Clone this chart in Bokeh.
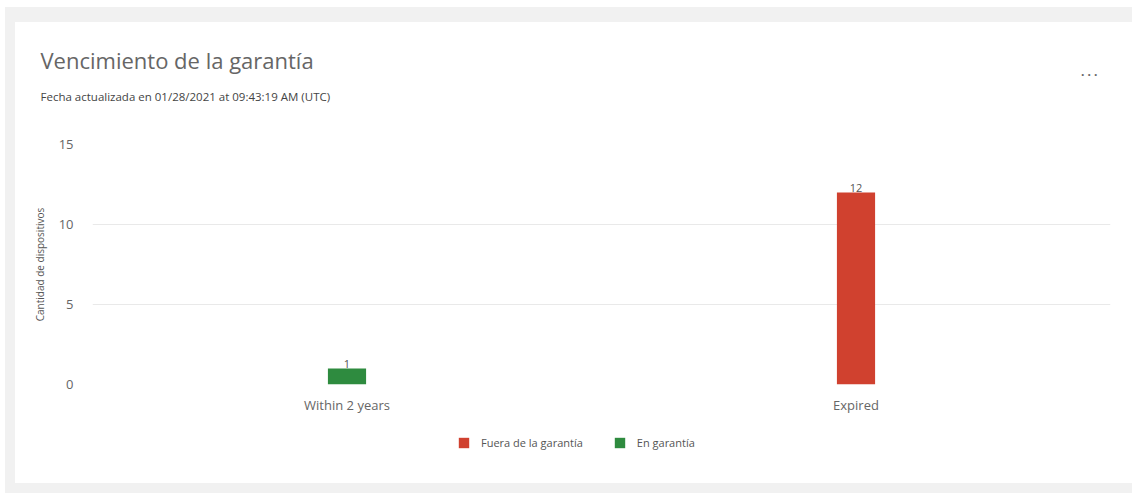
from bokeh.plotting import figure
from bokeh.models import (ColumnDataSource, FactorRange, Range1d, FixedTicker,
                          Legend, LegendItem, LabelSet, Title)
from bokeh.core.properties import value
from bokeh.layouts import column
from bokeh.embed import file_html
from bokeh.resources import INLINE

# ---- data ----
categories = ["Within 2 years", "Expired"]
series_names = ["Fuera de la garantía", "En garantía"]
fuera_values = [0, 12]
en_values = [1, 0]
series_colors = ["#d0412f", "#2e8b3f"]
y_ticks = [0, 5, 10, 15]
title_text = "Vencimiento de la garantía"
subtitle_text = "Fecha actualizada en 01/28/2021 at 09:43:19 AM (UTC)"
y_label = "Cantidad de dispositivos"

FONT = "Open Sans"
GRAY = "#f1f1f1"
W = 1117

x_range = FactorRange(*categories, range_padding=0)

# ---- main chart ----
p = figure(
    x_range=x_range, y_range=Range1d(0, 15),
    width=W, height=398, title=None,
    output_backend="svg", toolbar_location=None,
    min_border_left=77, min_border_right=22,
    min_border_top=122, min_border_bottom=36,
    background_fill_color="white", border_fill_color="white",
    outline_line_color=None,
)
p.margin = (15, 0, 0, 10)
p.styles = {"background-color": "white"}

# header rows, from the plot area outward: spacer, subtitle, menu dots, title
p.add_layout(Title(text="\u00a0", standoff=22, text_font=FONT, text_font_size="11.5px",
                   text_color="white"), "above")
p.add_layout(Title(text=subtitle_text, align="left", offset=-52, standoff=4,
                   text_font=FONT, text_font_size="11.5px", text_font_style="normal",
                   text_color="#444444"), "above")
p.add_layout(Title(text="· · ·", align="right", offset=13, standoff=3,
                   text_font=FONT, text_font_size="12px", text_font_style="bold",
                   text_color="#666666"), "above")
p.add_layout(Title(text=title_text, align="left", offset=-52, standoff=-24,
                   text_font=FONT, text_font_size="22px", text_font_style="normal",
                   text_color="#666666"), "above")

src_fuera = ColumnDataSource(dict(cat=categories, val=fuera_values))
src_en = ColumnDataSource(dict(cat=categories, val=en_values))

r_fuera = p.vbar(x="cat", top="val", bottom=0, width=0.075, source=src_fuera,
                 fill_color=series_colors[0], line_color=None)
r_en = p.vbar(x="cat", top="val", bottom=0, width=0.075, source=src_en,
              fill_color=series_colors[1], line_color=None)

# value labels for non-zero bars
lab_cat, lab_val = [], []
for c, a, b in zip(categories, fuera_values, en_values):
    for v in (a, b):
        if v > 0:
            lab_cat.append(c)
            lab_val.append(v)
src_lab = ColumnDataSource(dict(cat=lab_cat, val=lab_val, txt=[str(v) for v in lab_val]))
p.add_layout(LabelSet(x="cat", y="val", text="txt", source=src_lab,
                      text_align="center", text_baseline="bottom", y_offset=1,
                      text_font=value(FONT), text_font_size="11px",
                      text_color="#555555"))

# axes
p.xaxis.axis_line_color = None
p.xaxis.major_tick_line_color = None
p.xaxis.minor_tick_line_color = None
p.xaxis.major_label_standoff = 5
p.xaxis.major_label_text_font = FONT
p.xaxis.major_label_text_font_size = "13px"
p.xaxis.major_label_text_color = "#666666"

p.yaxis.ticker = FixedTicker(ticks=y_ticks)
p.yaxis.axis_line_color = None
p.yaxis.major_tick_line_color = None
p.yaxis.minor_tick_line_color = None
p.yaxis.major_label_standoff = 13
p.yaxis.major_label_text_font = FONT
p.yaxis.major_label_text_font_size = "13px"
p.yaxis.major_label_text_color = "#666666"
p.yaxis.axis_label = y_label
p.yaxis.axis_label_standoff = 9
p.yaxis.axis_label_text_font = FONT
p.yaxis.axis_label_text_font_size = "10px"
p.yaxis.axis_label_text_font_style = "normal"
p.yaxis.axis_label_text_color = "#555555"

p.xgrid.grid_line_color = None
p.ygrid.grid_line_color = "#e9e9e9"
p.ygrid.grid_line_width = 1

# ---- footer with the legend ----
foot = figure(
    x_range=x_range, y_range=Range1d(0, 15),
    width=W, height=63, output_backend="svg", toolbar_location=None,
    x_axis_location=None, y_axis_location=None,
    min_border_left=77, min_border_right=22, min_border_top=0, min_border_bottom=0,
    background_fill_color="white", border_fill_color="white",
    outline_line_color=None,
)
foot.margin = (0, 0, 10, 10)
foot.styles = {"background-color": "white"}
foot.grid.visible = False
f_fuera = foot.vbar(x="cat", top="val", bottom=0, width=0.075, source=src_fuera,
                    fill_color=series_colors[0], line_color=None, visible=False)
f_en = foot.vbar(x="cat", top="val", bottom=0, width=0.075, source=src_en,
                 fill_color=series_colors[1], line_color=None, visible=False)
legend = Legend(items=[LegendItem(label=series_names[0], renderers=[f_fuera]),
                       LegendItem(label=series_names[1], renderers=[f_en])],
                orientation="horizontal", location=(365, 33),
                glyph_width=13, glyph_height=13, label_standoff=11,
                spacing=30, padding=0, margin=0,
                label_text_font=FONT, label_text_font_size="11px",
                label_text_color="#555555", border_line_color=None,
                background_fill_alpha=0, inactive_fill_alpha=0)
foot.add_layout(legend)

layout = column(p, foot, margin=(7, 0, 0, 5), spacing=0,
                styles={"background-color": GRAY})

open("out.html", "w").write(file_html(layout, INLINE))
